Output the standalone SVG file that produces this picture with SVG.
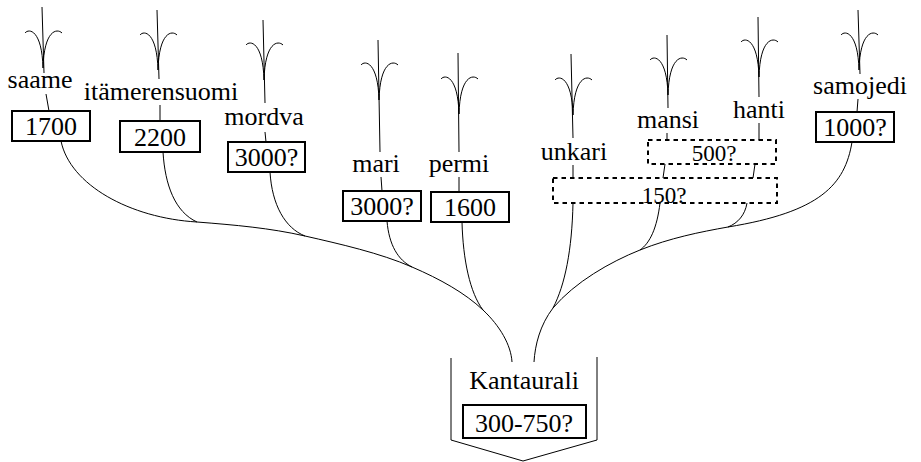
<svg xmlns="http://www.w3.org/2000/svg" width="921" height="462" viewBox="0 0 921 462">
<defs>
<style>
text{font-family:"Liberation Serif","Times New Roman","DejaVu Serif",serif;font-size:26px;fill:#000;text-anchor:middle}
.sm{font-size:23px}
.ln{fill:none;stroke:#000;stroke-width:1}
.box{fill:#fff;stroke:#000;stroke-width:2}
.dbox{fill:none;stroke:#000;stroke-width:2;stroke-dasharray:4.5 4}
.root{fill:none;stroke:#000;stroke-width:1}
</style>
<path id="fork" class="ln" d="M-17,26 C-13,21 0,23 1,61 M20,26 C15,21 2,23 1,61"/>
</defs>
<rect width="921" height="462" fill="#fff"/>
<g id="connectors">
  <use href="#fork" x="42" y="7"/>
  <use href="#fork" x="157" y="9"/>
  <use href="#fork" x="263" y="19"/>
  <use href="#fork" x="378" y="39"/>
  <use href="#fork" x="458" y="53"/>
  <use href="#fork" x="572" y="54"/>
  <use href="#fork" x="667" y="34"/>
  <use href="#fork" x="758" y="16"/>
  <use href="#fork" x="858" y="9"/>
  <path class="ln" d="M42,7 L44,73 M46,94 L49,111"/>
  <path class="ln" d="M157,10 L159,79 M160,105 L160,121"/>
  <path class="ln" d="M263,20 L265,103 M265,132 L266,142"/>
  <path class="ln" d="M378,40 L380,152 M381,177 L382,191"/>
  <path class="ln" d="M458,53 L459,152 M459,177 L459,192"/>
  <path class="ln" d="M571,54 L573,138 M573,165 L573,178"/>
  <path class="ln" d="M667,35 L668,108 M667,133 L667,140"/>
  <path class="ln" d="M758,17 L759,97 M759,123 L759,140"/>
  <path class="ln" d="M858,10 L860,74 M858,99 L857,112"/>
  <path class="ln" d="M665,164 L663,178 M755,164 L753,178"/>
  <path class="ln" d="M61,141 C70,185 130,218 197,222 C235,225 270,228 305,236 C340,244 380,253 412,267 C440,279 465,293 483,310 C500,326 511,345 512,362"/>
  <path class="ln" d="M163,152 C165,185 175,212 197,222"/>
  <path class="ln" d="M270,172 C272,205 285,228 305,236"/>
  <path class="ln" d="M387,221 C389,245 398,260 412,267"/>
  <path class="ln" d="M462,222 C463,260 470,293 483,310"/>
  <path class="ln" d="M852,142 C845,185 820,212 728,227 C700,232 670,238 640,250 C610,262 575,282 553,308 C540,325 535,345 534,362"/>
  <path class="ln" d="M747,203 C745,215 738,223 728,227"/>
  <path class="ln" d="M660,203 C657,228 650,243 640,250"/>
  <path class="ln" d="M573,203 C572,250 565,285 553,308"/>
</g>
<g id="saame">
  <text x="40" y="88">saame</text>
  <rect class="box" x="12" y="111" width="78" height="30"/>
  <text x="51" y="135">1700</text>
</g>
<g id="itamerensuomi">
  <text x="161" y="100">itämerensuomi</text>
  <rect class="box" x="120" y="121" width="80" height="31"/>
  <text x="160" y="146">2200</text>
</g>
<g id="mordva">
  <text x="264" y="125">mordva</text>
  <rect class="box" x="228" y="142" width="77" height="30"/>
  <text x="266.5" y="166">3000?</text>
</g>
<g id="mari">
  <text x="376" y="172">mari</text>
  <rect class="box" x="343" y="191" width="78" height="30"/>
  <text x="382" y="215">3000?</text>
</g>
<g id="permi">
  <text x="459" y="172">permi</text>
  <rect class="box" x="431" y="192" width="78" height="30"/>
  <text x="470" y="216">1600</text>
</g>
<g id="unkari">
  <text x="574" y="160">unkari</text>
</g>
<g id="mansi">
  <text x="668" y="128">mansi</text>
</g>
<g id="hanti">
  <text x="759" y="118">hanti</text>
</g>
<g id="samojedi">
  <text x="860" y="94">samojedi</text>
  <rect class="box" x="816" y="112" width="78" height="30"/>
  <text x="855" y="136">1000?</text>
</g>
<g id="ugri500">
  <rect class="dbox" x="648" y="140" width="128" height="24"/>
  <text class="sm" x="714" y="161">500?</text>
</g>
<g id="ugri150">
  <rect class="dbox" x="553" y="178" width="224" height="25"/>
  <text class="sm" x="664" y="203">150?</text>
</g>
<g id="kantaurali">
  <path class="root" d="M451,358 L451,440 L523,461 L597,440 L597,357"/>
  <text x="524" y="389">Kantaurali</text>
  <rect class="box" x="463" y="405" width="123" height="33"/>
  <text x="524" y="432">300-750?</text>
</g>
</svg>
